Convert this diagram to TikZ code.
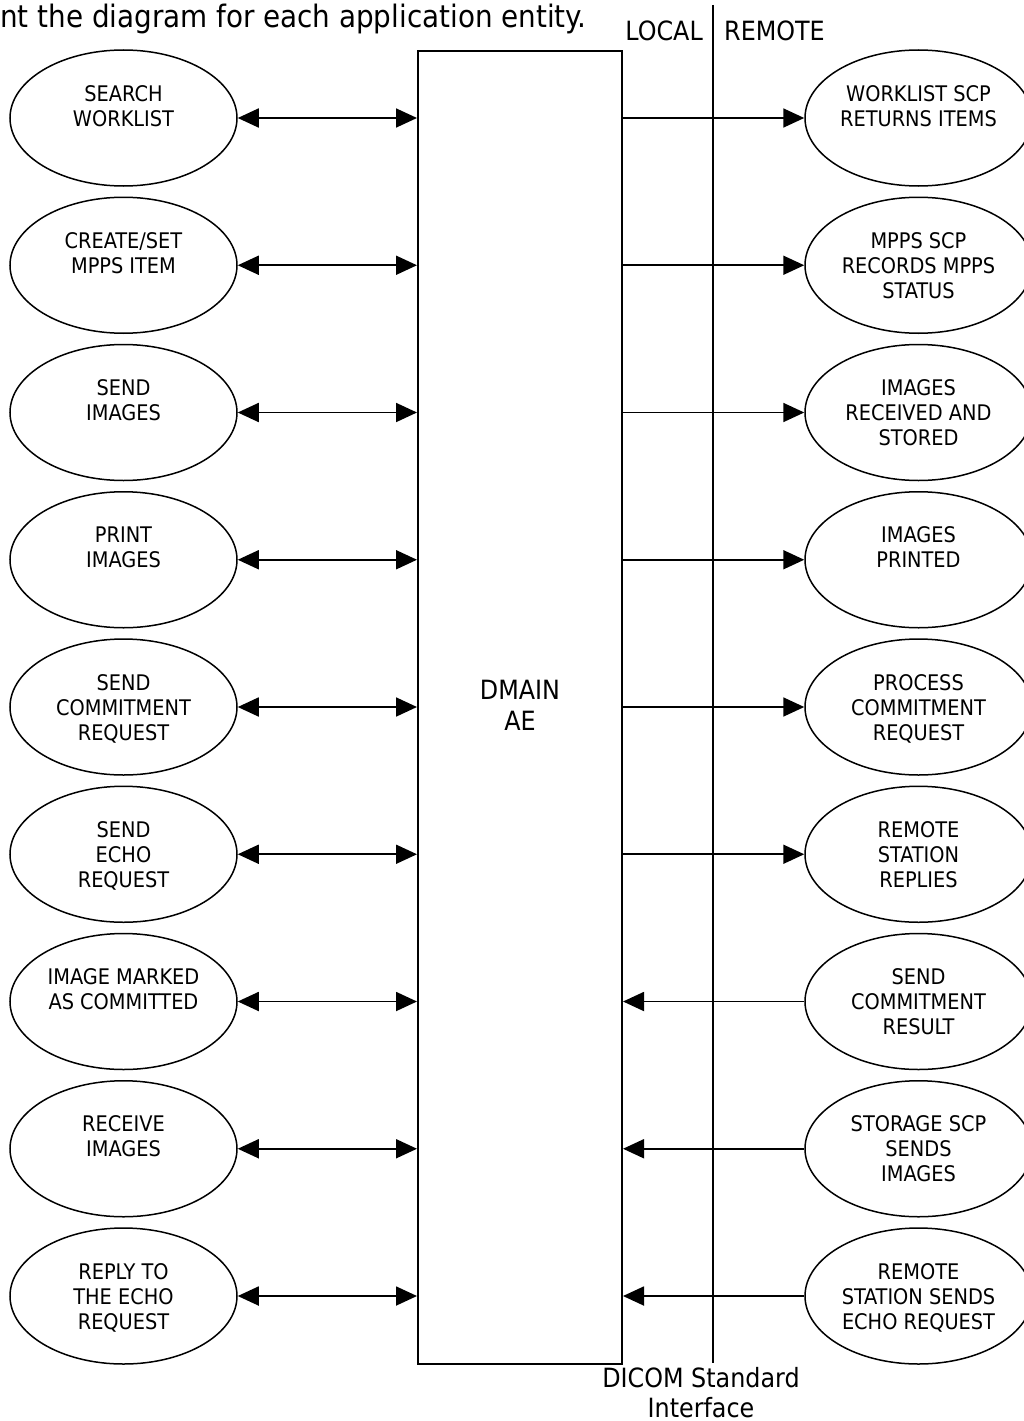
\documentclass[tikz,border=0pt]{standalone}
\usepackage{fontspec}
\setmainfont{DejaVu Sans Condensed}
\usetikzlibrary{shapes.geometric,arrows.meta}
\newcommand{\firstline}{\rule{0pt}{20pt}}
\tikzset{
  ell/.style={draw, ellipse, line width=1.5pt, minimum width=227pt, minimum height=136pt, inner sep=0pt},
  etxt/.style={align=center, inner sep=0pt, anchor=north, font=\fontsize{21.5}{25}\selectfont},
  bigtxt/.style={font=\fontsize{26.5}{30}\selectfont, inner sep=0pt},
  dbl/.style={line width=1.8pt, {Triangle[length=21pt,width=19pt]}-{Triangle[length=21pt,width=19pt]}},
  one/.style={line width=1.8pt, -{Triangle[length=21pt,width=19pt]}},
}
\begin{document}
\begin{tikzpicture}[x=1pt,y=-1pt]
\useasboundingbox (0,0) rectangle (1024,1421);
% main box
\node[draw, line width=2pt, minimum width=204pt, minimum height=1313pt, inner sep=0pt] (ae) at (520,707.5) {};
\node[align=center, inner sep=0pt, anchor=north, font=\fontsize{26.5}{31}\selectfont] (aetxt) at (520,675) {\rule{0pt}{24pt}DMAIN\\AE};
% interface line
\coordinate (itop) at (713,5);
\coordinate (ibot) at (713,1363);
\draw[line width=1.8pt] (itop) -- (ibot);
\node[bigtxt, anchor=base east] (local) at (703,41) {LOCAL};
\node[bigtxt, anchor=base west] (remote) at (724,41) {REMOTE};
\node[bigtxt, align=center, anchor=north] (dicom) at (701,1367) {\rule{0pt}{20pt}DICOM Standard\\Interface};
\node[inner sep=0pt, anchor=base west, font=\fontsize{30.9}{36}\selectfont] (intro) at (0,28) {nt the diagram for each application entity.};
% ellipses
\foreach \i/\lt/\rt in {
  1/{SEARCH\\WORKLIST}/{WORKLIST SCP\\RETURNS ITEMS},
  2/{CREATE/SET\\MPPS ITEM}/{MPPS SCP\\RECORDS MPPS\\STATUS},
  3/{SEND\\IMAGES}/{IMAGES\\RECEIVED AND\\STORED},
  4/{PRINT\\IMAGES}/{IMAGES\\PRINTED},
  5/{SEND\\COMMITMENT\\REQUEST}/{PROCESS\\COMMITMENT\\REQUEST},
  6/{SEND\\ECHO\\REQUEST}/{REMOTE\\STATION\\REPLIES},
  7/{IMAGE MARKED\\AS COMMITTED}/{SEND\\COMMITMENT\\RESULT},
  8/{RECEIVE\\IMAGES}/{STORAGE SCP\\SENDS\\IMAGES},
  9/{REPLY TO\\THE ECHO\\REQUEST}/{REMOTE\\STATION SENDS\\ECHO REQUEST}} {
  \pgfmathsetmacro{\yy}{118+147.25*(\i-1)}
  \node[ell] (l\i) at (123.5,\yy) {};
  \node[ell] (r\i) at (918.5,\yy) {};
  \node[etxt] (lt\i) at (123.5,\yy-37) {\firstline\lt};
  \node[etxt] (rt\i) at (918.5,\yy-37) {\firstline\rt};
  \draw[dbl] (l\i.east) -- (ae.west |- l\i.east);
}
\foreach \i in {1,...,6} {
  \draw[one] (ae.east |- r\i.west) -- (r\i.west);
}
\foreach \i in {7,8,9} {
  \draw[one] (r\i.west) -- (ae.east |- r\i.west);
}
\end{tikzpicture}
\end{document}
